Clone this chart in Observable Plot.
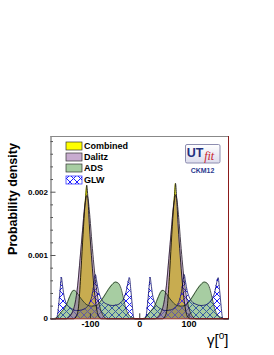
<!DOCTYPE html>
<html><head><meta charset="utf-8">
<script src="https://cdn.jsdelivr.net/npm/d3@7"></script>
<script src="https://cdn.jsdelivr.net/npm/@observablehq/plot@0.6"></script>
<style>
html,body{margin:0;padding:0;background:#fff;}
#chart{width:274px;height:355px;}
</style></head><body><div id="chart"></div>
<script>
// ---- data ----
const seriesNames = ["Combined", "Dalitz", "ADS", "GLW"];

const combinedX = [-180,-134,-128,-124,-120,-116,-112,-109.5,-107.5,-105.5,-102,-98,-94,-90,-86,-82,-78,
                   46,52,56,60,64,68,70.5,72.5,74.5,78,82,86,90,94,98,102,180];
const combinedY = [0,0,0.00005,0.0002,0.00065,0.0012,0.0017,0.00195,0.00211,0.00195,0.00145,0.001,0.0006,0.0003,0.0001,0.00002,0,
                   0,0.00005,0.0002,0.00065,0.0012,0.0017,0.00195,0.00214,0.00195,0.00145,0.001,0.0006,0.0003,0.0001,0.00002,0,0];

const dalitzX = [-180,-150,-143,-137,-131,-126,-121,-116,-112,-109,-107,-105,-101,-97,-93,-89,-85,-80,-74,-66,
                 30,37,43,49,54,59,64,68,71,73,75,79,83,87,91,95,100,106,114,180];
const dalitzY = [0,0,0.00003,0.0001,0.00025,0.00052,0.00095,0.0014,0.00175,0.0019,0.00195,0.0019,0.0016,0.0012,0.00085,0.00055,0.00033,0.00016,0.00005,0,
                 0,0.00003,0.0001,0.00025,0.00052,0.00095,0.0014,0.00175,0.0019,0.00196,0.0019,0.0016,0.0012,0.00085,0.00055,0.00033,0.00016,0.00005,0,0];

const adsX = [-180,-170,-160,-150,-142,-137,-133,-128,-122,-115,-107,-98,-88,-80,-72,-64,-56,-49,-43,-38,-33,-28,-22,-15,-8,
              0,10,20,30,38,43,47,52,58,65,73,82,92,100,108,116,124,131,137,142,147,152,158,165,172,180];
const adsY = [0,0.00001,0.0001,0.0002,0.00035,0.00043,0.00045,0.00042,0.00035,0.00028,0.00022,0.0002,0.00021,0.00027,0.00036,0.00046,0.00054,0.00058,0.00056,0.00048,0.00032,0.00016,0.00006,0.00002,0,
              0,0.00001,0.0001,0.0002,0.00035,0.00043,0.00045,0.00042,0.00035,0.00028,0.00022,0.0002,0.00021,0.00027,0.00036,0.00046,0.00054,0.00058,0.00056,0.00048,0.00032,0.00016,0.00006,0.00002,0,0];

const glwX = [-180,-170,-167,-164,-161,-159,-157,-154,-150,-145,-138,-128,-118,-108,-101,-96,-93,-90,-87,-84,-80,-74,-66,-56,-46,-38,-32,-27,-24,-21,-18,-15,-13,-11,
              0,10,13,16,19,21,23,26,30,35,42,52,62,72,79,84,87,90,93,96,100,106,114,124,134,142,148,153,156,159,162,165,167,169,180];
const glwY = [0,0,0.00005,0.00025,0.0005,0.00066,0.00055,0.00038,0.00026,0.0002,0.00016,0.00013,0.00014,0.00018,0.00026,0.0004,0.00055,0.0007,0.00058,0.00045,0.00035,0.00027,0.00023,0.00021,0.00022,0.00026,0.00033,0.00045,0.00057,0.00065,0.00045,0.0002,0.00005,0,
              0,0,0.00005,0.00025,0.0005,0.00066,0.00055,0.00038,0.00026,0.0002,0.00016,0.00013,0.00014,0.00018,0.00026,0.0004,0.00055,0.0007,0.00058,0.00045,0.00035,0.00027,0.00023,0.00021,0.00022,0.00026,0.00033,0.00045,0.00057,0.00065,0.00045,0.0002,0.00005,0,0];

const xDomain = [-180, 180];
const yDomain = [0, 0.00288];
const xTicks = [-100, 0, 100];
const xTickLabels = ["-100", "0", "100"];
const yMajorTicks = [0, 0.001, 0.002];
const yTickLabels = ["0", "0.001", "0.002"];
const yMinorTicks = [0.0002,0.0004,0.0006,0.0008,0.0012,0.0014,0.0016,0.0018,0.0022,0.0024,0.0026,0.0028];
const yLabel = "Probability density";
const xLabelMain = "γ[";
const xLabelSup = "o";
const xLabelEnd = "]";
const logoUT = "UT", logoFit = "fit", logoCaption = "CKM12";

// ---- build ----
const rows = (xs, ys) => xs.map((x, i) => ({x, y: ys[i]}));
const combined = rows(combinedX, combinedY);
const dalitz = rows(dalitzX, dalitzY);
const ads = rows(adsX, adsY);
const glw = rows(glwX, glwY);
const curve = "monotone-x";

const plot = Plot.plot({
  width: 274, height: 355,
  marginLeft: 50.5, marginRight: 46, marginTop: 136, marginBottom: 36.7,
  x: {domain: xDomain},
  y: {domain: yDomain},
  style: {fontFamily: "'Liberation Sans', Arial, sans-serif", fontWeight: "bold", background: "white", color: "#000"},
  marks: [
    Plot.areaY(combined, {x: "x", y: "y", fill: "#ffff00", curve}),
    Plot.areaY(glw, {x: "x", y: "y", fill: "url(#patGLW)", curve}),
    Plot.areaY(ads, {x: "x", y: "y", fill: "url(#patADS)", curve}),
    Plot.areaY(dalitz, {x: "x", y: "y", fill: "url(#patDalitz)", curve}),
    Plot.lineY(glw, {x: "x", y: "y", stroke: "#10106a", strokeWidth: 0.8, curve}),
    Plot.lineY(ads, {x: "x", y: "y", stroke: "#203020", strokeWidth: 0.8, curve}),
    Plot.lineY(combined, {x: "x", y: "y", stroke: "#000", strokeWidth: 0.8, curve}),
    Plot.lineY(dalitz, {x: "x", y: "y", stroke: "#1a1020", strokeWidth: 0.8, curve}),
    Plot.ruleX([xDomain[0]], {stroke: "#555", strokeWidth: 1}),
    Plot.ruleX([xDomain[1]], {stroke: "#8b1a1a", strokeWidth: 1}),
    Plot.ruleY([yDomain[1]], {stroke: "#888", strokeWidth: 1}),
    Plot.ruleY([0], {stroke: "#8b1a1a", strokeWidth: 1}),
    Plot.axisY(yMajorTicks, {tickSize: 0, tickPadding: 3, fontSize: 8, label: null,
      tickFormat: d => yTickLabels[yMajorTicks.indexOf(d)]}),
    Plot.axisY(yMajorTicks, {tickSize: 5, dx: 5, tickPadding: 0, label: null, stroke: "#555", tickFormat: () => ""}),
    Plot.axisY(yMinorTicks, {tickSize: 2.5, dx: 2.5, tickPadding: 0, label: null, stroke: "#555", tickFormat: () => ""}),
    Plot.axisX(xTicks, {tickSize: 0, tickPadding: 1.5, fontSize: 9, label: null,
      tickFormat: d => xTickLabels[xTicks.indexOf(d)]}),
    Plot.axisX(xTicks, {tickSize: 5, dy: -5, tickPadding: 0, label: null, stroke: "#333", tickFormat: () => ""})
  ]
});

const svg = d3.select(plot);
const defs = svg.insert("defs", ":first-child");
function checker(id, color, phase, off) {
  const p = defs.append("pattern").attr("id", id).attr("patternUnits", "userSpaceOnUse")
    .attr("x", off).attr("y", off).attr("width", 2).attr("height", 2);
  const cells = phase ? [[1,0],[0,1]] : [[0,0],[1,1]];
  cells.forEach(([cx, cy]) => p.append("rect").attr("x", cx).attr("y", cy)
    .attr("width", 1).attr("height", 1).attr("fill", color).attr("shape-rendering", "crispEdges"));
}
checker("patDalitz", "#9058a0", 0, 0.5);
checker("patADS", "#4f9a45", 1, 0.5);
const pg = defs.append("pattern").attr("id", "patGLW").attr("patternUnits", "userSpaceOnUse")
  .attr("width", 7).attr("height", 7);
pg.append("path").attr("d", "M0,0L7,7M7,0L0,7M-1,6L1,8M6,-1L8,1M-1,1L1,-1M6,8L8,6")
  .attr("stroke", "#1f1fff").attr("stroke-width", 1).attr("fill", "none");
const lg = defs.append("linearGradient").attr("id", "logoGrad").attr("x1", 0).attr("y1", 0).attr("x2", 0).attr("y2", 1);
lg.append("stop").attr("offset", "0%").attr("stop-color", "#ffffff");
lg.append("stop").attr("offset", "100%").attr("stop-color", "#dcdcec");

// legend
const legFills = ["#ffff00", "url(#patDalitz)", "url(#patADS)", "url(#patGLW)"];
const legY = [145.5, 156.8, 168, 179.3];
const leg = svg.append("g").attr("text-anchor", "start");
seriesNames.forEach((name, i) => {
  leg.append("rect").attr("x", 66).attr("y", Math.round(legY[i] - 3.8)).attr("width", 16).attr("height", 8)
    .attr("fill", "white").attr("stroke", "none");
  leg.append("rect").attr("x", 66).attr("y", Math.round(legY[i] - 3.8)).attr("width", 16).attr("height", 8)
    .attr("fill", legFills[i]).attr("stroke", i === 3 ? "#1f1fff" : "#333").attr("stroke-width", 0.7);
  leg.append("text").attr("x", 84).attr("y", legY[i] + 3.3).attr("text-anchor", "start").text(name)
    .attr("font-size", 9).attr("font-weight", "bold").attr("fill", "#000");
});

// logo
const logo = svg.append("g").attr("text-anchor", "start");
logo.append("rect").attr("x", 185.5).attr("y", 144.5).attr("width", 34.5).attr("height", 18.5).attr("rx", 1.5)
  .attr("fill", "url(#logoGrad)").attr("stroke", "#8d8db0").attr("stroke-width", 1);
logo.append("text").attr("x", 186.8).attr("y", 157).attr("text-anchor", "start").text(logoUT)
  .attr("font-size", 12.5).attr("font-weight", "bold").attr("fill", "#22307f");
logo.append("text").attr("x", 204.2).attr("y", 159.5).attr("text-anchor", "start").text(logoFit)
  .attr("font-size", 12).attr("font-style", "italic").attr("font-weight", "normal")
  .attr("font-family", "'Liberation Serif', serif").attr("fill", "#c8202a");
logo.append("text").attr("x", 202.5).attr("y", 173).attr("text-anchor", "middle").text(logoCaption)
  .attr("font-size", 7).attr("font-weight", "bold").attr("fill", "#2a3a90");

// axis titles
svg.append("text").attr("transform", "translate(16.5,199) rotate(-90)").attr("text-anchor", "middle")
  .text(yLabel).attr("font-size", 12.5).attr("font-weight", "bold").attr("fill", "#000");
const xl = svg.append("text").attr("x", 228.5).attr("y", 344.5).attr("text-anchor", "end")
  .attr("font-size", 15).attr("font-weight", "normal").attr("fill", "#000");
xl.append("tspan").text(xLabelMain);
xl.append("tspan").attr("font-size", 10).attr("dy", -6).text(xLabelSup);
xl.append("tspan").attr("dy", 6).text(xLabelEnd);

document.getElementById("chart").appendChild(plot);
</script>
</body></html>
